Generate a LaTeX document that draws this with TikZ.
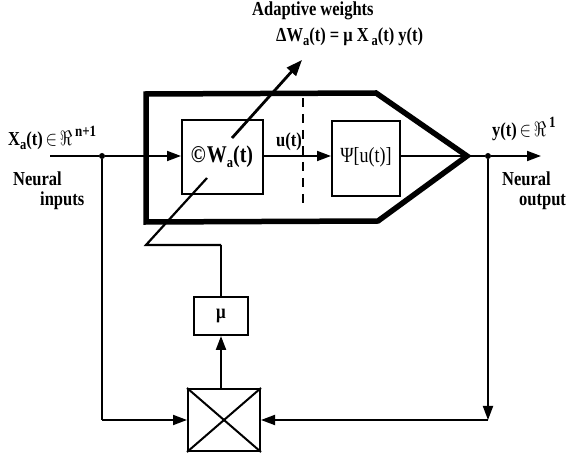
\documentclass[tikz,border=0pt]{standalone}
\usepackage{graphicx}
\usepackage{fontspec}
\setmainfont{Liberation Serif}
\usetikzlibrary{arrows.meta,calc}
\newcommand\lowsub[1]{\raisebox{-0.45ex}{\fontsize{12.5}{12.5}\selectfont #1}}
\newcommand\highsup[1]{\raisebox{1.0ex}{\fontsize{13}{13}\selectfont #1}}
\newcommand\tall[1]{\scalebox{1}[1.2]{#1}}
\tikzset{
  lbl/.style={font=\fontsize{16.5}{17}\selectfont\bfseries, inner sep=0pt},
  pair/.style={font=\fontsize{16.5}{20}\selectfont\bfseries, inner sep=0pt, align=left},
  blk/.style={draw, line width=2pt, inner sep=0pt},
  wire/.style={line width=1.8pt},
  tip/.style={-{Triangle[length=14pt,width=10pt]}},
  jdot/.style={circle, fill, inner sep=0pt, minimum size=6pt},
}
\begin{document}
\begin{tikzpicture}[x=1pt,y=-1pt]
\useasboundingbox (0,0) rectangle (574,457);
% neuron body
\draw[line width=5.5pt, line join=miter] (146,94) -- (376,93) -- (467,156) -- (378,221) -- (146,222) -- cycle;
\coordinate (apex) at (467,156);
% blocks
\node[blk, minimum width=81pt, minimum height=74pt] (W) at (222.5,157) {};
\node[lbl] (Wtxt) at (222,157) {\tall{\fontsize{20}{20}\selectfont\textcopyright\hspace{1pt}W\lowsub{a}(t)}};
\node[blk, minimum width=68pt, minimum height=75pt] (Psi) at (366,159) {};
\node[inner sep=0pt, font=\fontsize{18}{18}\selectfont] (Psitxt) at (366,157) {\tall{Ψ[u(t)]}};
\node[blk, minimum width=54pt, minimum height=38pt, font=\fontsize{17}{17}\selectfont\bfseries] (mu) at (221,316) {\tall{μ}};
\node[blk, minimum width=72pt, minimum height=62pt, line width=2pt] (X) at (224,420) {};
\draw[line width=2pt] (X.north west) -- (X.south east) (X.north east) -- (X.south west);
% input
\coordinate (in) at (50,156);
\node[jdot] (jin) at (102,156) {};
\draw[wire] (in) -- (jin);
\draw[wire, tip] (jin) -- (W.west |- jin);
% internal
\draw[wire, tip] (W.east |- jin) -- (Psi.west |- jin);
\draw[wire] (Psi.east |- jin) -- (apex);
\node[jdot] (jout) at (488,156) {};
\coordinate (out) at (541,156);
\draw[wire] (apex) -- (jout);
\draw[wire, tip] (jout) -- (out);
% dashed separator
\coordinate (d1) at (303,98);
\coordinate (d2) at (303,208);
\draw[line width=1.8pt, dash pattern=on 9pt off 7pt] (d1) -- (d2);
% adaptive weights arrow
\coordinate (a1) at (232,138);
\coordinate (a2) at (302,60);
\draw[line width=2.8pt, -{Triangle[length=16pt,width=12pt]}] (a1) -- (a2);
% lower adaptation line
\coordinate (b1) at (207,178);
\coordinate (b2) at (146,245);
\coordinate (b3) at (221,245);
\draw[line width=2.2pt, line join=miter] (b1) -- (b2) -- (b3);
\draw[wire] (b3) -- (mu.north);
% multiplier to mu
\draw[line width=2.2pt, tip] (X.north -| mu.south) -- (mu.south);
% feedback paths
\coordinate (lc) at (102,420);
\draw[wire] (jin) -- (lc);
\draw[wire, tip] (lc) -- (X.west);
\coordinate (rc) at (488,420);
\draw[wire, tip] (jout) -- (rc);
\draw[wire, tip] (rc) -- (X.east);
% labels
\node[lbl, anchor=west] (xlab) at (8,138) {\tall{X\lowsub{a}(t)\,$\in$\,$\Re$\,\highsup{n+1}}};
\node[pair, anchor=north west] (nin) at (13,172) {\tall{Neural}\\\hspace{27pt}\tall{inputs}};
\node[lbl, anchor=west] (ut) at (276,142) {\tall{u(t)}};
\node[lbl, anchor=west] (ylab) at (492,129) {\tall{y(t)\,$\in$\,$\Re$\,\highsup{1}}};
\node[pair, anchor=north west] (nout) at (502,172) {\tall{Neural}\\\hspace{17pt}\tall{output}};
\node[lbl, anchor=west] (aw) at (252,11) {\tall{Adaptive weights}};
\node[lbl, anchor=west] (dw) at (276,37) {\tall{ΔW\lowsub{a}(t) = μ X\,\lowsub{a}(t) y(t)}};
\end{tikzpicture}
\end{document}
